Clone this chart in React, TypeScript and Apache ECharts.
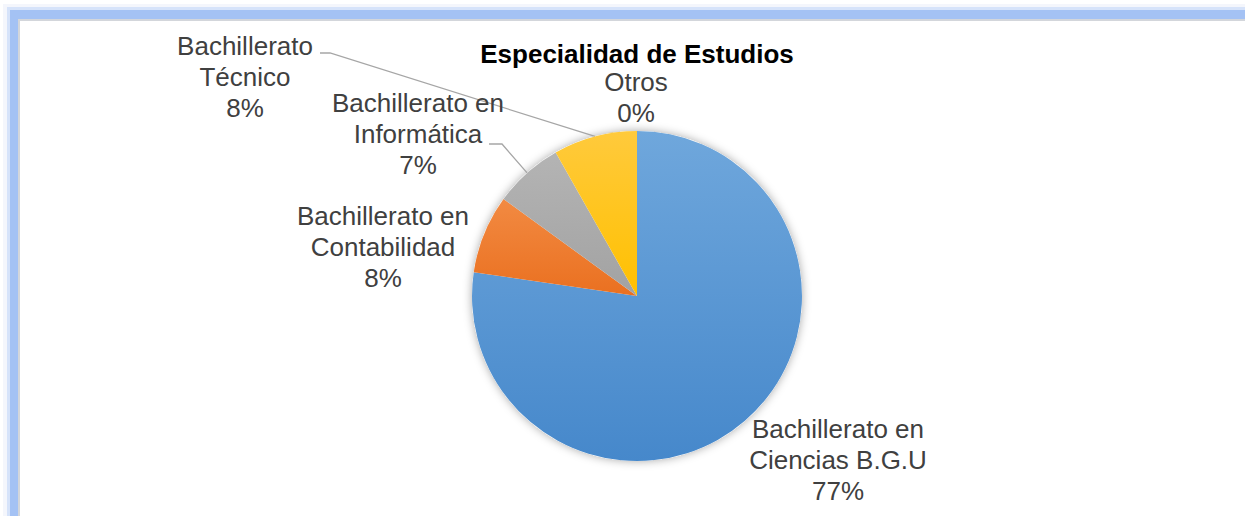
import React, { useEffect, useRef } from "react";
import * as echarts from "echarts";

const categories = [
  "Bachillerato en Ciencias B.G.U",
  "Bachillerato en Contabilidad",
  "Bachillerato en Informática",
  "Bachillerato Técnico",
  "Otros",
];
const labelTexts = [
  "Bachillerato en\nCiencias B.G.U",
  "Bachillerato en\nContabilidad",
  "Bachillerato en\nInformática",
  "Bachillerato\nTécnico",
  "Otros",
];
const values = [77.3, 7.7, 6.8, 8.2, 0];
const colorTop = ["#6fa7dc", "#f28a42", "#b4b4b4", "#ffca3c", "#8fa9d6"];
const colorBottom = ["#4688cb", "#ea7020", "#a2a2a2", "#ffc000", "#6f8fc6"];
const showLine = [false, false, true, true, false];
const titleText = "Especialidad de Estudios";

// label placement (centre of each label block) and elbow/end of leader lines
const labelPos: number[][] = [
  [838, 460],
  [383, 247],
  [418, 134],
  [245, 77],
  [636, 97],
];
const lineEnds: (number[][] | null)[] = [
  null,
  null,
  [[502, 144], [489, 144]],
  [[330, 53], [320, 53]],
  null,
];

const CX = 637;
const CY = 296;
const R = 165;

export default function App() {
  const ref = useRef<HTMLDivElement>(null);
  useEffect(() => {
    if (!ref.current) return;
    const chart = echarts.init(ref.current, null, { renderer: "svg" });
    const data = categories.map((name, i) => ({
      name,
      value: values[i],
      itemStyle: {
        color: new echarts.graphic.LinearGradient(0, 0, 0, 1, [
          { offset: 0, color: colorTop[i] },
          { offset: 1, color: colorBottom[i] },
        ]),
      },
      labelLine: { show: showLine[i] },
    }));
    chart.setOption({
      animation: false,
      backgroundColor: "transparent",
      title: {
        text: titleText,
        left: CX,
        top: 45,
        padding: 0,
        textAlign: "center",
        textStyle: {
          fontFamily: "'Liberation Sans', Arial, sans-serif",
          fontSize: 26,
          lineHeight: 18,
          fontWeight: "bold",
          color: "#000000",
        },
      },
      series: [
        {
          type: "pie",
          silent: true,
          center: [CX, CY],
          radius: R,
          z: 1,
          label: { show: false },
          labelLine: { show: false },
          itemStyle: {
            color: "#ffffff",
            shadowBlur: 10,
            shadowColor: "rgba(0,0,0,0.35)",
          },
          data: [{ name: "", value: 1 }],
        },
        {
          type: "pie",
          z: 2,
          center: [CX, CY],
          radius: R,
          startAngle: 90,
          clockwise: true,
          avoidLabelOverlap: false,
          percentPrecision: 0,
          itemStyle: { borderWidth: 0 },
          label: {
            show: true,
            position: "outside",
            formatter: (p: any) => `${labelTexts[p.dataIndex]}\n${p.percent}%`,
            fontFamily: "'Liberation Sans', Arial, sans-serif",
            fontSize: 26,
            lineHeight: 31,
            color: "#404040",
            align: "center",
          },
          labelLine: {
            lineStyle: { color: "#a6a6a6", width: 1.3 },
          },
          labelLayout: (p: any) => {
            const i = p.dataIndex;
            const out: any = {
              x: labelPos[i][0],
              y: labelPos[i][1],
              align: "center",
              verticalAlign: "middle",
            };
            const ends = lineEnds[i];
            if (ends && p.labelLinePoints && p.labelLinePoints.length) {
              out.labelLinePoints = [p.labelLinePoints[0], ends[0], ends[1]];
            }
            return out;
          },
          data,
        },
      ],
    });
    return () => chart.dispose();
  }, []);

  const band = (l: number, t: number, c: string) => (
    <div
      style={{
        position: "absolute",
        left: l,
        top: t,
        right: 0,
        bottom: 0,
        background: c,
      }}
    />
  );

  return (
    <div
      style={{
        position: "fixed",
        left: 0,
        top: 0,
        width: 1245,
        height: 516,
        background: "#ffffff",
        overflow: "hidden",
      }}
    >
      {band(3, 4, "#f4f6fc")}
      {band(7, 7, "#d6e3fa")}
      {band(10, 10, "#a4c2f4")}
      {band(18, 19, "#d3d6db")}
      {band(20, 21, "#ffffff")}
      <div
        ref={ref}
        style={{ position: "absolute", left: 0, top: 0, width: 1245, height: 516 }}
      />
    </div>
  );
}
